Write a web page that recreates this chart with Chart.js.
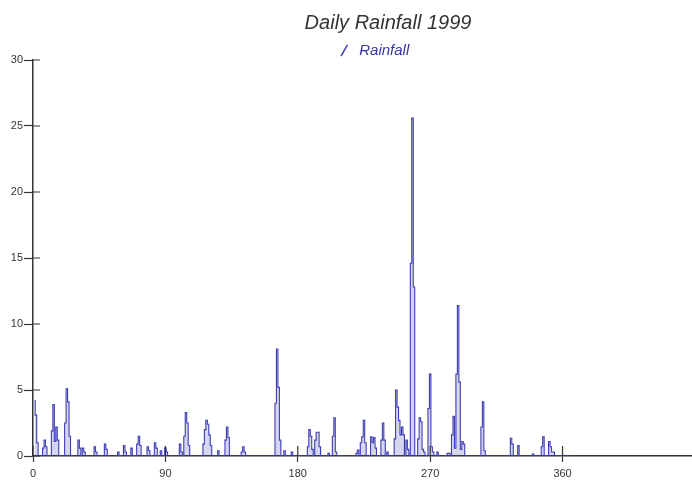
<!DOCTYPE html>
<html>
<head>
<meta charset="utf-8">
<title>Daily Rainfall 1999</title>
<script src="https://cdn.jsdelivr.net/npm/chart.js@4.4.1/dist/chart.umd.min.js"></script>
<style>
  html, body { margin: 0; padding: 0; background: #fff; }
  #wrap { width: 692px; height: 481px; position: relative; }
</style>
</head>
<body>
<div id="wrap"><canvas id="myChart"></canvas></div>
<script>
// daily rainfall for 1999, day 1 .. 365
var rainfall = [
  4.2, 3.1, 1.0, 0, 0, 0, 0.6, 1.2, 0.7, 0, 0, 0, 1.9, 3.9, 1.1,
  2.2, 1.2, 0, 0, 0, 0, 2.5, 5.1, 4.1, 1.5, 0, 0, 0, 0, 0,
  1.2, 0.6, 0, 0.6, 0.3, 0, 0, 0, 0, 0, 0, 0.7, 0.3, 0, 0,
  0, 0, 0, 0.9, 0.5, 0, 0, 0, 0, 0, 0, 0, 0.3, 0, 0,
  0, 0.8, 0.3, 0, 0, 0, 0.6, 0, 0, 0, 0.9, 1.5, 0.8, 0, 0,
  0, 0, 0.7, 0.4, 0, 0, 0, 1.0, 0.6, 0, 0, 0.4, 0, 0, 0.6,
  0.3, 0, 0, 0, 0, 0, 0, 0, 0, 0.9, 0.3, 0, 1.5, 3.3, 2.5,
  0.8, 0, 0, 0, 0, 0, 0, 0, 0, 0, 0.9, 2.0, 2.7, 2.4, 1.6,
  0.8, 0, 0, 0, 0, 0.4, 0, 0, 0, 0, 1.2, 2.2, 1.4, 0, 0,
  0, 0, 0, 0, 0, 0, 0.3, 0.7, 0.3, 0, 0, 0, 0, 0, 0,
  0, 0, 0, 0, 0, 0, 0, 0, 0, 0, 0, 0, 0, 0, 4.0,
  8.1, 5.2, 1.2, 0, 0, 0.4, 0, 0, 0, 0, 0.3, 0, 0, 0, 0,
  0, 0, 0, 0, 0, 0, 0.7, 2.0, 1.5, 0.5, 0, 1.2, 1.8, 1.8, 0.7,
  0, 0, 0, 0, 0, 0.2, 0, 0, 1.5, 2.9, 0.3, 0, 0, 0, 0,
  0, 0, 0, 0, 0, 0, 0, 0, 0, 0.2, 0.45, 0, 1.0, 1.45, 2.7,
  1.0, 0, 0, 0, 1.45, 1.0, 1.4, 0.6, 0, 0, 0, 1.2, 2.5, 1.2, 0,
  0.3, 0, 0, 0, 0, 1.3, 5.0, 3.7, 2.7, 1.6, 2.2, 1.6, 0, 1.2, 0.5,
  0, 14.6, 25.6, 12.8, 0, 0, 1.3, 2.9, 2.6, 0.5, 0.3, 0, 0, 3.6, 6.2,
  0.7, 0.3, 0, 0, 0.3, 0, 0, 0, 0, 0, 0, 0.2, 0.2, 0, 1.6,
  3.0, 0.6, 6.2, 11.4, 5.6, 0.5, 1.1, 0.9, 0, 0, 0, 0, 0, 0, 0,
  0, 0, 0, 0, 2.2, 4.1, 0.4, 0, 0, 0, 0, 0, 0, 0, 0,
  0, 0, 0, 0, 0, 0, 0, 0, 0, 1.35, 0.9, 0, 0, 0, 0.8,
  0, 0, 0, 0, 0, 0, 0, 0, 0, 0.15, 0, 0, 0, 0, 0,
  0.7, 1.45, 0, 0, 0, 1.1, 0.7, 0.3, 0.3, 0, 0, 0, 0, 0, 0,
  0, 0, 0, 0, 0
];
var xTicks = [0, 90, 180, 270, 360];
var yTicks = [0, 5, 10, 15, 20, 25, 30];

var points = rainfall.map(function (v, i) { return { x: i + 1, y: v }; });

var axisColor = '#333';
var lineBlue = '#3d3db4';

// tick marks that cross the axes (the inner half)
var crossTicks = {
  id: 'crossTicks',
  afterDatasetsDraw: function (chart) {
    var ctx = chart.ctx, xs = chart.scales.x, ys = chart.scales.y;
    ctx.save();
    ctx.strokeStyle = axisColor;
    ctx.lineWidth = 1.2;
    ctx.beginPath();
    xs.ticks.forEach(function (t) {
      var px = xs.getPixelForValue(t.value);
      ctx.moveTo(px, ys.bottom);
      ctx.lineTo(px, ys.bottom - 10);
    });
    ys.ticks.forEach(function (t) {
      var py = ys.getPixelForValue(t.value);
      ctx.moveTo(xs.left, py);
      ctx.lineTo(xs.left + 7, py);
    });
    ctx.stroke();
    ctx.restore();
  }
};

// the title and legend sit a bit lower and right of centre in the original
var nudgeHeader = {
  id: 'nudgeHeader',
  afterLayout: function (chart) {
    var t = chart.titleBlock, l = chart.legend;
    t.left += 42; t.right += 42; t.top += 6; t.bottom += 6;
    l.left += 27; l.right += 27; l.top += 8; l.bottom += 8;
  }
};

const ctx = document.getElementById('myChart');
var rainChart = new Chart(ctx, {
  type: 'line',
  data: {
    datasets: [{
      label: 'Rainfall',
      data: points,
      borderColor: lineBlue,
      backgroundColor: 'rgba(70, 70, 190, 0.22)',
      fill: 'origin',
      borderWidth: 1.1,
      pointRadius: 0,
      stepped: 'middle'
    }]
  },
  options: {
    responsive: true,
    maintainAspectRatio: false,
    animation: false,
    layout: { padding: 0 },
    plugins: {
      title: {
        display: true,
        text: 'Daily Rainfall 1999',
        color: '#333',
        font: { family: 'Liberation Sans', size: 20, style: 'italic', weight: 'normal' },
        padding: { top: 5, bottom: 2 }
      },
      legend: {
        labels: {
          color: '#3535a5',
          font: { family: 'Liberation Sans', size: 15, style: 'italic' },
          usePointStyle: true,
          boxHeight: 9,
          padding: 4,
          generateLabels: function (chart) {
            return Chart.defaults.plugins.legend.labels.generateLabels(chart).map(function (l) {
              l.pointStyle = 'line';
              l.rotation = -60;
              l.strokeStyle = lineBlue;
              l.lineWidth = 1.5;
              return l;
            });
          }
        }
      },
      tooltip: { enabled: false }
    },
    scales: {
      x: {
        type: 'linear',
        min: 0,
        max: 448,
        border: { color: axisColor, width: 1.5 },
        grid: { drawOnChartArea: false, tickLength: 6, color: axisColor, tickWidth: 1.2 },
        ticks: {
          color: '#333',
          font: { family: 'Liberation Sans', size: 11 },
          padding: 5,
          maxRotation: 0,
          autoSkip: false
        },
        afterBuildTicks: function (axis) { axis.ticks = xTicks.map(function (v) { return { value: v }; }); },
        afterFit: function (axis) { axis.height = 25; }
      },
      y: {
        min: 0,
        max: 30,
        border: { color: axisColor, width: 1.5 },
        grid: { drawOnChartArea: false, tickLength: 9, color: axisColor, tickWidth: 1.2 },
        ticks: {
          color: '#333',
          font: { family: 'Liberation Sans', size: 11 },
          padding: 1
        },
        afterBuildTicks: function (axis) { axis.ticks = yTicks.map(function (v) { return { value: v }; }); },
        afterFit: function (axis) { axis.width = 33; }
      }
    }
  },
  plugins: [crossTicks, nudgeHeader]
});
</script>
</body>
</html>
